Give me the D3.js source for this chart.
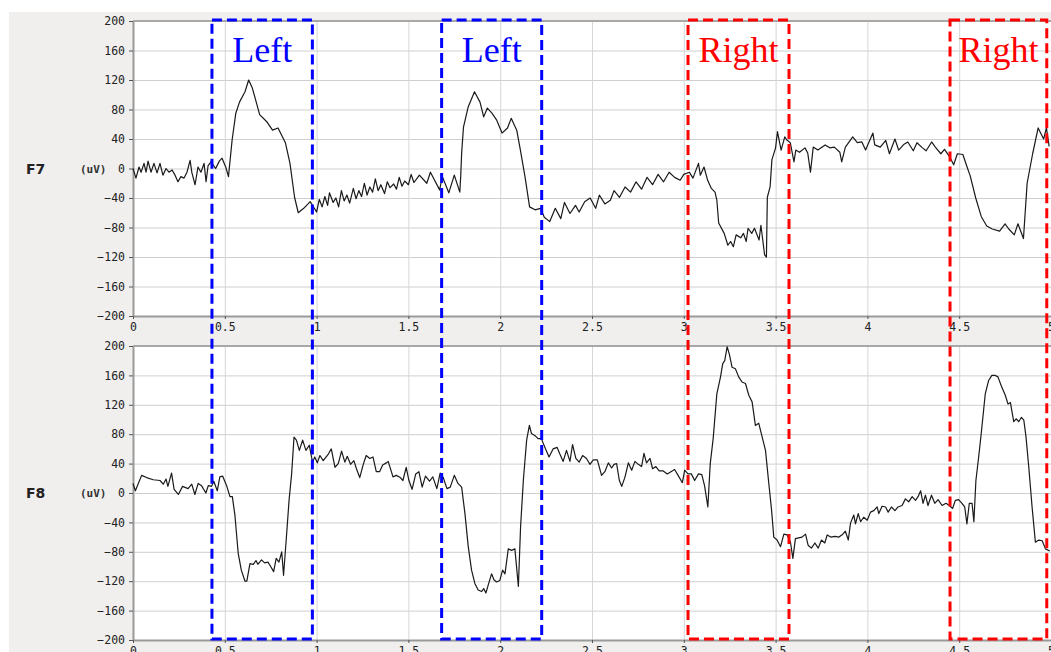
<!DOCTYPE html>
<html>
<head>
<meta charset="utf-8">
<script src="https://cdn.jsdelivr.net/npm/d3@7"></script>
<style>
  body { margin: 0; background: #fff; }
  svg { display: block; }
</style>
</head>
<body>
<div id="chart"></div>
<script>
"use strict"

// channel names + unit
const channels = ["F7", "F8"];
const unitLabel = "(uV)";

// tick values
const yTicks = [-200, -160, -120, -80, -40, 0, 40, 80, 120, 160, 200];
const xTicks = [0, 0.5, 1, 1.5, 2, 2.5, 3, 3.5, 4, 4.5, 5];

// marked windows [start s, end s]
const windowsLeft = [[0.43, 0.977], [1.681, 2.226]];
const windowsRight = [[3.023, 3.573], [4.45, 4.977]];

// F7 trace: [time s, uV]
const f7 = [
  [0,0],[0.016,-13],[0.033,2],[0.044,-5],[0.06,7],[0.071,-5],[0.082,10],[0.098,-5],[0.114,7],[0.131,-6],
  [0.147,7],[0.163,-9],[0.18,0],[0.196,-5],[0.213,-2],[0.229,-9],[0.245,-18],[0.261,-11],[0.278,-13],[0.294,-5],
  [0.311,11],[0.321,-6],[0.338,-22],[0.354,2],[0.37,-5],[0.387,7],[0.398,-18],[0.409,4],[0.425,9],[0.45,0],
  [0.47,10],[0.485,14],[0.505,2],[0.52,-11],[0.54,39],[0.56,75],[0.58,90],[0.61,104],[0.63,120],[0.65,109],
  [0.69,73],[0.73,63],[0.76,52],[0.79,55],[0.83,35],[0.855,7],[0.88,-39],[0.9,-60],[0.93,-54],[0.965,-45],
  [1.0,-59],[1.015,-42],[1.03,-52],[1.045,-38],[1.06,-50],[1.07,-33],[1.09,-46],[1.105,-40],[1.12,-52],[1.135,-30],
  [1.15,-44],[1.165,-36],[1.18,-47],[1.2,-27],[1.215,-41],[1.23,-30],[1.245,-38],[1.26,-20],[1.275,-36],[1.29,-25],
  [1.305,-32],[1.32,-14],[1.335,-30],[1.35,-22],[1.37,-34],[1.385,-18],[1.40,-26],[1.42,-21],[1.435,-28],[1.45,-12],
  [1.465,-24],[1.48,-17],[1.5,-22],[1.515,-8],[1.53,-19],[1.545,-14],[1.56,-9],[1.6,-20],
  [1.62,-5],[1.67,-29],[1.685,-11],[1.72,-33],[1.75,-9],[1.78,-32],[1.785,-10],[1.79,21],[1.8,56],[1.825,83],
  [1.86,104],[1.89,90],[1.91,70],[1.93,82],[1.955,75],[1.98,66],[2.01,48],[2.04,55],[2.06,68],[2.09,52],
  [2.11,25],[2.135,-11],[2.16,-52],[2.19,-56],[2.22,-54],[2.24,-66],[2.27,-72],[2.30,-54],[2.33,-68],[2.35,-46],
  [2.38,-61],[2.41,-50],[2.43,-59],[2.46,-45],[2.49,-40],[2.52,-54],[2.54,-36],[2.57,-48],[2.6,-43],[2.62,-30],
  [2.65,-39],[2.68,-25],[2.71,-32],[2.74,-18],[2.77,-28],[2.8,-12],[2.83,-22],[2.86,-8],[2.89,-18],[2.92,-5],
  [2.95,-12],[2.98,-16],[3.0,-8],[3.03,-5],[3.05,-13],[3.08,7],[3.09,-9],[3.11,2],[3.13,-16],[3.15,-27],
  [3.17,-32],[3.18,-43],[3.19,-74],[3.22,-88],[3.24,-104],[3.255,-99],[3.27,-106],[3.285,-90],[3.31,-94],[3.325,-88],
  [3.34,-99],[3.35,-81],[3.37,-88],[3.385,-81],[3.41,-97],[3.42,-77],[3.43,-97],[3.44,-117],[3.45,-120],[3.455,-39],
  [3.47,-25],[3.48,12],[3.5,28],[3.51,50],[3.53,25],[3.55,43],[3.56,39],[3.58,35],[3.6,9],[3.61,25],
  [3.63,22],[3.66,28],[3.675,21],[3.69,-5],[3.705,29],[3.73,25],[3.77,32],[3.795,28],[3.82,29],[3.85,22],
  [3.86,9],[3.88,29],[3.92,43],[3.945,35],[3.97,36],[3.99,25],[4.03,48],[4.04,32],[4.07,29],[4.1,38],
  [4.12,20],[4.15,40],[4.17,25],[4.2,33],[4.22,36],[4.25,24],[4.27,35],[4.3,28],[4.32,24],[4.35,36],
  [4.37,29],[4.4,20],[4.42,26],[4.45,15],[4.47,5],[4.49,20],[4.52,19],[4.54,4],[4.56,-10],[4.59,-40],
  [4.62,-65],[4.65,-78],[4.68,-82],[4.72,-85],[4.75,-75],[4.77,-82],[4.8,-90],[4.82,-75],[4.85,-95],[4.87,-20],
  [4.9,20],[4.93,55],[4.96,40],[4.975,55],[4.99,30]
];

// F8 trace: [time s, uV]
const f8 = [
  [0,13],[0.013,3],[0.047,24],[0.074,21],[0.11,18],[0.147,17],[0.165,12],[0.18,19],[0.19,9],[0.21,27],
  [0.224,5],[0.247,-2],[0.27,9],[0.30,6],[0.32,12],[0.337,-2],[0.355,13],[0.373,10],[0.397,0],[0.41,10],
  [0.428,9],[0.44,16],[0.459,3],[0.473,22],[0.488,23],[0.51,10],[0.528,-5],[0.541,-5],[0.555,-30],[0.573,-82],
  [0.59,-105],[0.61,-120],[0.62,-120],[0.637,-96],[0.655,-97],[0.67,-92],[0.68,-97],[0.70,-91],[0.717,-95],[0.735,-94],
  [0.75,-100],[0.766,-107],[0.78,-89],[0.795,-94],[0.81,-80],[0.82,-112],[0.837,-55],[0.85,-10],[0.864,26],[0.877,76],
  [0.89,72],[0.906,58],[0.924,72],[0.942,58],[0.96,65],[0.978,42],[0.99,49],[1.004,41],[1.018,51],[1.036,44],
  [1.064,53],[1.08,60],[1.1,35],[1.118,40],[1.136,57],[1.154,42],[1.167,50],[1.185,39],[1.203,44],[1.217,33],
  [1.235,21],[1.253,38],[1.27,51],[1.29,47],[1.307,49],[1.325,29],[1.343,29],[1.36,38],[1.38,41],[1.39,43],
  [1.416,22],[1.434,24],[1.456,21],[1.47,17],[1.488,35],[1.503,17],[1.52,5],[1.54,26],[1.557,29],[1.575,8],
  [1.593,23],[1.615,16],[1.633,22],[1.655,6],[1.673,27],[1.69,21],[1.71,6],[1.728,8],[1.75,24],[1.77,13],
  [1.79,8],[1.808,-28],[1.826,-73],[1.844,-105],[1.862,-123],[1.88,-132],[1.899,-134],[1.91,-130],[1.922,-136],[1.935,-125],
  [1.953,-110],[1.966,-118],[1.98,-121],[1.998,-119],[2.013,-105],[2.026,-110],[2.044,-76],[2.062,-78],[2.08,-76],[2.099,-127],
  [2.111,-46],[2.126,17],[2.144,72],[2.159,92],[2.17,81],[2.19,78],[2.206,74],[2.224,74],[2.242,63],[2.266,49],
  [2.288,60],[2.31,62],[2.325,53],[2.343,43],[2.361,58],[2.38,43],[2.394,66],[2.412,47],[2.43,42],[2.449,51],
  [2.47,47],[2.489,39],[2.507,45],[2.529,45],[2.552,24],[2.57,29],[2.589,41],[2.607,34],[2.62,39],[2.634,40],
  [2.649,17],[2.662,9],[2.68,22],[2.698,41],[2.716,31],[2.734,43],[2.752,39],[2.77,36],[2.783,54],[2.797,41],
  [2.816,47],[2.83,33],[2.848,36],[2.866,30],[2.888,30],[2.91,26],[2.93,29],[2.95,32],[2.969,24],[2.992,14],
  [3.005,31],[3.023,26],[3.041,26],[3.059,17],[3.08,26],[3.098,25],[3.113,10],[3.131,-19],[3.144,40],[3.16,74],
  [3.18,135],[3.2,158],[3.212,176],[3.223,180],[3.236,199],[3.248,189],[3.263,171],[3.281,169],[3.299,158],[3.317,151],
  [3.336,149],[3.354,133],[3.372,124],[3.39,92],[3.408,95],[3.427,76],[3.445,58],[3.463,13],[3.478,-23],[3.49,-60],
  [3.508,-64],[3.527,-73],[3.545,-56],[3.563,-57],[3.581,-67],[3.594,-89],[3.608,-62],[3.626,-61],[3.644,-60],[3.663,-56],
  [3.677,-71],[3.695,-75],[3.714,-68],[3.732,-75],[3.75,-64],[3.768,-68],[3.781,-57],[3.8,-60],[3.823,-59],[3.845,-60],
  [3.866,-56],[3.88,-52],[3.896,-64],[3.908,-41],[3.926,-30],[3.935,-42],[3.95,-28],[3.963,-39],[3.98,-33],[3.999,-37],
  [4.017,-26],[4.035,-24],[4.053,-19],[4.062,-28],[4.08,-18],[4.099,-19],[4.113,-26],[4.131,-19],[4.15,-24],[4.167,-19],
  [4.189,-17],[4.207,-8],[4.225,-12],[4.244,-5],[4.262,-10],[4.276,-5],[4.29,3],[4.303,-14],[4.316,-3],[4.33,-17],
  [4.349,-3],[4.367,-14],[4.385,-9],[4.407,-17],[4.428,-14],[4.446,-17],[4.464,-21],[4.479,-10],[4.497,-9],[4.515,-14],
  [4.53,-19],[4.542,-42],[4.555,-14],[4.57,-14],[4.58,-39],[4.591,17],[4.606,49],[4.62,81],[4.642,135],[4.66,153],
  [4.678,160],[4.697,160],[4.711,158],[4.729,146],[4.751,133],[4.766,121],[4.779,123],[4.797,97],[4.81,101],[4.824,97],
  [4.839,103],[4.852,99],[4.864,76],[4.879,35],[4.897,-19],[4.915,-67],[4.933,-64],[4.952,-65],[4.97,-76],[4.993,-79]
];

const traces = [f7, f8];

// layout
const W = 1051, H = 652;
const plotLeft = 133, plotRight = 1051;
const panels = [{top: 21, bottom: 316}, {top: 346, bottom: 640}];

const svg = d3.select("#chart").append("svg")
  .attr("width", W)
  .attr("height", H);

// grey window background
svg.append("rect")
  .attr("x", 9).attr("y", 12)
  .attr("width", W - 9).attr("height", H - 12)
  .attr("fill", "#f0efee");

const x = d3.scaleLinear().domain([0, 5]).range([plotLeft, plotRight]);
const mono = "'DejaVu Sans Mono', monospace";

panels.forEach(function(p, i) {
  const y = d3.scaleLinear().domain([-200, 200]).range([p.bottom, p.top]);
  const g = svg.append("g");

  // plot area
  g.append("rect")
    .attr("x", plotLeft).attr("y", p.top)
    .attr("width", plotRight - plotLeft).attr("height", p.bottom - p.top)
    .attr("fill", "#fff");

  // gridlines
  g.append("g").selectAll("line").data(yTicks).enter().append("line")
    .attr("x1", plotLeft).attr("x2", plotRight)
    .attr("y1", function(d) { return y(d) + 0.5 })
    .attr("y2", function(d) { return y(d) + 0.5 })
    .attr("stroke", "#cfcfcf").attr("stroke-width", 1);
  g.append("g").selectAll("line").data(xTicks).enter().append("line")
    .attr("x1", function(d) { return x(d) + 0.5 })
    .attr("x2", function(d) { return x(d) + 0.5 })
    .attr("y1", p.top).attr("y2", p.bottom)
    .attr("stroke", "#d6d6d6").attr("stroke-width", 1);

  // top border
  g.append("line")
    .attr("x1", plotLeft).attr("x2", plotRight)
    .attr("y1", p.top).attr("y2", p.top)
    .attr("stroke", "#a8a8a8").attr("stroke-width", 2);

  // axes
  const yAxis = g.append("g")
    .attr("transform", "translate(" + plotLeft + ",0)")
    .call(d3.axisLeft(y).tickValues(yTicks).tickSize(4).tickSizeOuter(0).tickPadding(4));
  const xAxis = g.append("g")
    .attr("transform", "translate(0," + p.bottom + ")")
    .call(d3.axisBottom(x).tickValues(xTicks).tickSize(3).tickSizeOuter(0).tickPadding(4)
      .tickFormat(function(d) { return String(d) }));
  [yAxis, xAxis].forEach(function(a) {
    a.select(".domain").attr("stroke", "#9a9a9a").attr("stroke-width", 2);
    a.selectAll(".tick line").attr("stroke", "#555");
    a.selectAll("text")
      .attr("font-family", mono).attr("font-size", 11.5).attr("fill", "#222");
  });

  // trace
  const line = d3.line()
    .x(function(d) { return x(d[0]) })
    .y(function(d) { return y(d[1]) });
  g.append("path")
    .datum(traces[i])
    .attr("fill", "none")
    .attr("stroke", "#1a1a1a")
    .attr("stroke-width", 1.2)
    .attr("stroke-linejoin", "round")
    .attr("d", line);

  // channel + unit labels
  g.append("text")
    .attr("x", 26).attr("y", y(0) + 5)
    .attr("font-family", "'DejaVu Sans', sans-serif")
    .attr("font-weight", "bold").attr("font-size", 14)
    .attr("fill", "#222")
    .text(channels[i]);
  g.append("text")
    .attr("x", 80).attr("y", y(0) + 4)
    .attr("font-family", mono)
    .attr("font-weight", "bold").attr("font-size", 11)
    .attr("fill", "#333")
    .text(unitLabel);
});

// dashed window boxes over both panels
const boxTop = 20, boxBottom = 639;
function drawBoxes(list, color, label) {
  list.forEach(function(w) {
    svg.append("rect")
      .attr("x", x(w[0])).attr("y", boxTop)
      .attr("width", x(w[1]) - x(w[0])).attr("height", boxBottom - boxTop)
      .attr("fill", "none")
      .attr("stroke", color).attr("stroke-width", 3)
      .attr("stroke-dasharray", "10,5");
    svg.append("text")
      .attr("x", (x(w[0]) + x(w[1])) / 2).attr("y", 62)
      .attr("text-anchor", "middle")
      .attr("font-family", "'Liberation Serif', 'Times New Roman', serif")
      .attr("font-size", 36)
      .attr("fill", color)
      .text(label);
  });
}
drawBoxes(windowsLeft, "#0000ff", "Left");
drawBoxes(windowsRight, "#ff0000", "Right");
</script>
</body>
</html>
